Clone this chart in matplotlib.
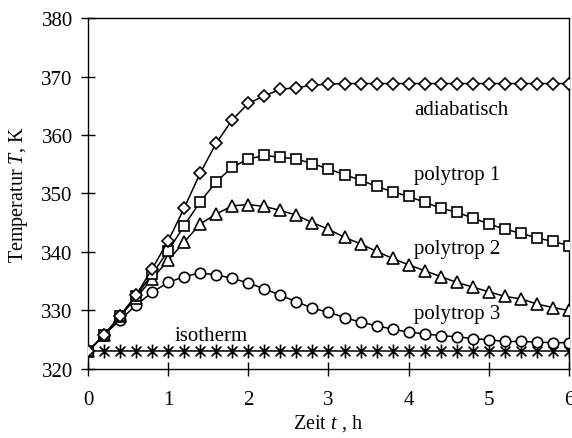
import numpy as np
import matplotlib
matplotlib.use("Agg")
import matplotlib.pyplot as plt
from matplotlib.path import Path

plt.rcParams['font.family'] = ['Liberation Serif', 'DejaVu Serif']
plt.rcParams['mathtext.fontset'] = 'custom'
plt.rcParams['mathtext.rm'] = 'Liberation Serif'
plt.rcParams['mathtext.it'] = 'Liberation Serif:italic'

t = [round(0.2 * i, 1) for i in range(31)]

adiabatisch = [323.0, 325.8, 329.1, 332.6, 337.1, 341.9, 347.5, 353.5, 358.6, 362.6,
               365.4, 366.7, 367.8, 368.1, 368.5, 368.7, 368.8, 368.8, 368.8, 368.8,
               368.8, 368.8, 368.8, 368.8, 368.8, 368.8, 368.8, 368.8, 368.8, 368.8, 368.8]
polytrop1 = [323.0, 325.8, 329.0, 332.5, 336.2, 340.2, 344.5, 348.6, 352.0, 354.5,
             355.9, 356.5, 356.2, 355.9, 355.1, 354.2, 353.2, 352.3, 351.2, 350.3,
             349.5, 348.5, 347.5, 346.8, 345.8, 344.8, 343.9, 343.2, 342.4, 341.8, 341.1]
polytrop2 = [323.0, 325.8, 329.0, 332.2, 335.4, 338.6, 341.7, 344.8, 346.5, 347.9,
             348.1, 347.8, 347.1, 346.3, 345.0, 343.9, 342.5, 341.4, 340.1, 338.9,
             337.8, 336.8, 335.8, 334.8, 334.0, 333.2, 332.4, 332.0, 331.1, 330.5, 330.0]
polytrop3 = [323.0, 325.8, 328.4, 330.9, 333.1, 334.8, 335.8, 336.4, 336.1, 335.5,
             334.7, 333.7, 332.6, 331.5, 330.4, 329.7, 328.8, 328.0, 327.4, 326.8,
             326.3, 326.0, 325.7, 325.5, 325.2, 325.0, 324.7, 324.7, 324.6, 324.5, 324.5]
isotherm = [323.0] * 31

labels = ["adiabatisch", "polytrop 1", "polytrop 2", "polytrop 3", "isotherm"]
label_pos = [(4.07, 363.6), (4.07, 352.4), (4.07, 339.9), (4.07, 328.8), (1.085, 325.0)]

xticks = [0, 1, 2, 3, 4, 5, 6]
yticks = [320, 330, 340, 350, 360, 370, 380]

# asterisk marker (vertical + two diagonals)
a = 0.5
d = 0.5 * np.cos(np.pi / 4)
star = Path([(0, -a), (0, a), (-d, -d), (d, d), (-d, d), (d, -d)],
            [Path.MOVETO, Path.LINETO, Path.MOVETO, Path.LINETO, Path.MOVETO, Path.LINETO])

fig = plt.figure(figsize=(5.72, 4.39), dpi=100)
ax = fig.add_axes([0.1538, 0.1572, 0.8410, 0.7995])

lw = 1.1
mew = 1.2
ax.plot(t, isotherm, color='black', lw=lw, marker=star, ms=10, mew=1.2, zorder=2)
ax.plot(t, polytrop3, color='black', lw=lw, marker='o', ms=7.5, mfc='white', mec='black', mew=mew, zorder=3)
ax.plot(t, polytrop2, color='black', lw=lw, marker='^', ms=8, mfc='white', mec='black', mew=mew, zorder=4)
ax.plot(t, polytrop1, color='black', lw=lw, marker='s', ms=7, mfc='white', mec='black', mew=mew, zorder=5)
ax.plot(t, adiabatisch, color='black', lw=lw, marker='D', ms=6, mfc='white', mec='black', mew=mew, zorder=6)

for txt, (x, y) in zip(labels, label_pos):
    ax.text(x, y, txt, fontsize=15, ha='left', va='baseline')

ax.set_xlim(0, 6)
ax.set_ylim(320, 380)
ax.set_xticks(xticks)
ax.set_yticks(yticks)
ax.tick_params(direction='inout', length=10, width=1.0, labelsize=15)
ax.tick_params(axis='x', pad=10)
ax.tick_params(axis='y', pad=6)
for s in ax.spines.values():
    s.set_linewidth(1.0)

ax.set_xlabel('Zeit $t$ , h', fontsize=14.5, labelpad=2)
ax.set_ylabel('Temperatur $T$, K', fontsize=14.5, labelpad=8)

fig.savefig('out.png', dpi=100)
